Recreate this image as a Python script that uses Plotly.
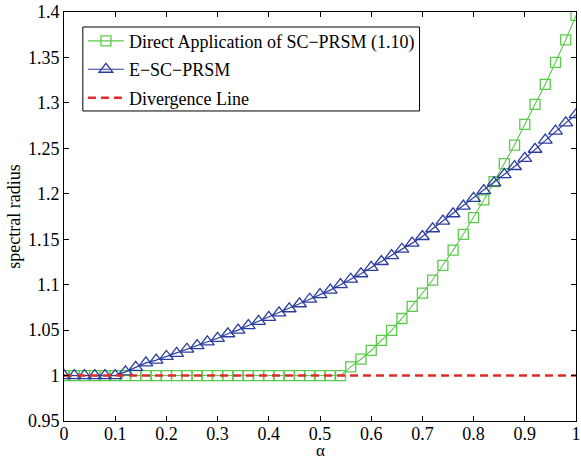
import plotly.graph_objects as go

# alpha grid (0:0.02:1)
alpha = [round(i * 0.02, 2) for i in range(51)]

# spectral radius of the direct application of SC-PRSM (1.10)
rho_direct = [1.0] * 28 + [
    1.0095, 1.018, 1.0276, 1.0386, 1.0496, 1.0628, 1.0762, 1.0906,
    1.1051, 1.1213, 1.138, 1.1554, 1.1737, 1.1932, 1.2133, 1.2331,
    1.2536, 1.2764, 1.2984, 1.3204, 1.3446, 1.3694, 1.3963,
]

# spectral radius of E-SC-PRSM
rho_esc = [1.0] * 6 + [
    1.004, 1.009, 1.014, 1.017, 1.021, 1.0245, 1.029, 1.033, 1.037,
    1.041, 1.046, 1.050, 1.055, 1.0597, 1.064, 1.069, 1.0735, 1.079,
    1.084, 1.089, 1.094, 1.100, 1.106, 1.112, 1.119, 1.1255, 1.132,
    1.139, 1.1457, 1.153, 1.1615, 1.170, 1.178, 1.1865, 1.195, 1.2035,
    1.212, 1.221, 1.230, 1.239, 1.249, 1.259, 1.269, 1.278, 1.287,
]

# divergence threshold
div_x = [0.0, 1.0]
div_y = [1.0, 1.0]

x_ticks = [0, 0.1, 0.2, 0.3, 0.4, 0.5, 0.6, 0.7, 0.8, 0.9, 1.0]
x_labels = ["0", "0.1", "0.2", "0.3", "0.4", "0.5", "0.6", "0.7", "0.8", "0.9", "1"]
y_ticks = [0.95, 1.0, 1.05, 1.1, 1.15, 1.2, 1.25, 1.3, 1.35, 1.4]
y_labels = ["0.95", "1", "1.05", "1.1", "1.15", "1.2", "1.25", "1.3", "1.35", "1.4"]

GREEN = "#5cc94c"
BLUE = "#2a3d9e"
RED = "#e02b27"
SERIF = "Liberation Serif, Times New Roman, serif"

fig = go.Figure()
fig.add_trace(go.Scatter(
    x=alpha, y=rho_direct, mode="lines+markers",
    name="Direct Application of SC\u2212PRSM (1.10)",
    legendgroup="a",
    line=dict(color=GREEN, width=1.1),
    marker=dict(symbol="square-open", size=10, color=GREEN, line=dict(width=1.3)),
))
fig.add_trace(go.Scatter(
    x=alpha, y=rho_esc, mode="lines+markers",
    name="E\u2212SC\u2212PRSM",
    legendgroup="b",
    line=dict(color=BLUE, width=1.2),
    marker=dict(symbol="triangle-up-open", size=12, color=BLUE, line=dict(width=1.3)),
))
fig.add_trace(go.Scatter(
    x=div_x, y=div_y, mode="lines",
    name="Divergence Line",
    legendgroup="c",
    line=dict(color=RED, width=2.5, dash="8px,5px"),
))

axis_common = dict(
    showgrid=False, zeroline=False,
    showline=True, linecolor="black", linewidth=1, mirror="ticks",
    ticks="inside", ticklen=5, tickwidth=1, tickcolor="black",
    tickfont=dict(family=SERIF, size=18, color="black"),
    ticklabeloverflow="allow",
)

# framed box behind the legend entries
fig.add_shape(
    type="rect", xref="paper", yref="paper",
    x0=0.0368, x1=0.6944, y0=0.758, y1=0.9633,
    line=dict(color="black", width=1), fillcolor="white", layer="below",
)

# x-axis label placed under the tick labels
fig.add_annotation(
    text="\u03b1", xref="paper", yref="paper", x=0.5, y=-0.1002,
    xanchor="center", yanchor="bottom", showarrow=False,
    font=dict(family=SERIF, size=17, color="black"),
)

fig.update_layout(
    width=581, height=463,
    margin=dict(l=64, r=0, t=12, b=42),
    paper_bgcolor="white", plot_bgcolor="white",
    showlegend=True,
    legend=dict(
        x=0.037, y=0.974, xanchor="left", yanchor="top",
        bgcolor="rgba(0,0,0,0)", borderwidth=0,
        font=dict(family=SERIF, size=18, color="black"),
        traceorder="grouped", tracegroupgap=2,
        itemwidth=36,
    ),
    xaxis=dict(
        range=[0, 1], tickvals=x_ticks, ticktext=x_labels,
        ticklabelstandoff=-4,
        **axis_common,
    ),
    yaxis=dict(
        range=[0.95, 1.4], tickvals=y_ticks, ticktext=y_labels,
        title=dict(text="spectral radius", font=dict(family=SERIF, size=18, color="black"), standoff=2),
        **axis_common,
    ),
)

fig.write_html("out.html")
